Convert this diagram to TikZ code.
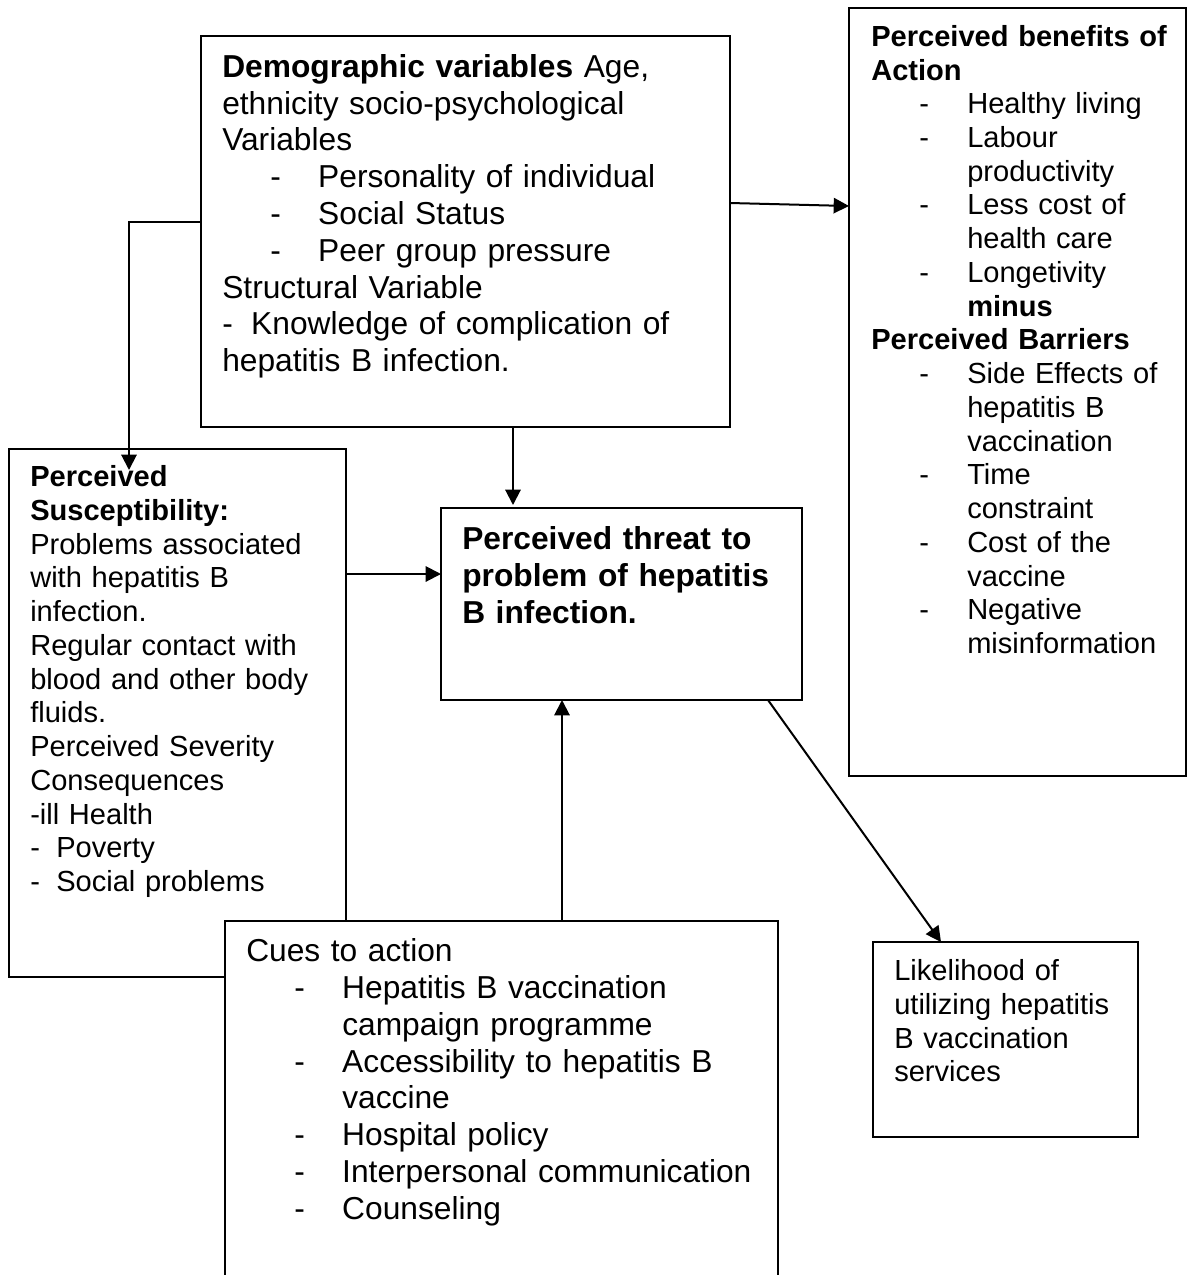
\documentclass[tikz,border=0pt]{standalone}
\usepackage{fontspec}
\setmainfont{Liberation Sans}
\usetikzlibrary{arrows.meta}
\setlength{\parindent}{0pt}
\setlength{\parskip}{0pt}
\newcommand{\bigtext}{\fontsize{23.8pt}{27.6pt}\selectfont}
\newcommand{\smalltext}{\fontsize{21.8pt}{25.3pt}\selectfont}
\newcommand{\dashitem}[1]{\par\hangindent=72pt\hangafter=1\hspace*{36pt}\makebox[36pt][l]{-}#1}

\begin{document}
\begin{tikzpicture}[x=0.75pt,y=-0.75pt,
  hbmbox/.style={draw,line width=1.5pt,fill=white,inner sep=0pt,outer sep=0pt,anchor=north west},
  hbmtext/.style={anchor=north west,inner sep=0pt,align=left},
  hbmarrow/.style={line width=1.5pt,-{Triangle[width=11.5pt,length=11.5pt]}}]
  \useasboundingbox (0,0) rectangle (1193,1275);
  % boxes
  \node[hbmbox,minimum width=396.75pt,minimum height=293.25pt] (demo) at (201,36) {};
  \node[hbmbox,minimum width=252.75pt,minimum height=576pt] (benefit) at (849,8) {};
  \node[hbmbox,minimum width=252.75pt,minimum height=396pt] (suscept) at (9,449) {};
  \node[hbmbox,minimum width=270.75pt,minimum height=144pt] (threat) at (441,508) {};
  \node[hbmbox,minimum width=198.75pt,minimum height=146.25pt] (likely) at (873,942) {};
  \node[hbmbox,minimum width=414.75pt,minimum height=300pt] (cues) at (225,921) {};
  % texts
  \node[hbmtext,font=\bigtext,text width=380pt] (demo-txt) at (222,51.2) {%
    \strut\textbf{Demographic variables} Age,\\
    ethnicity socio-psychological\\
    Variables
    \dashitem{Personality of individual}
    \dashitem{Social Status}
    \dashitem{Peer group pressure}
    \par Structural Variable\\
    \makebox[21.75pt][l]{-}Knowledge of complication of\\
    hepatitis B infection.};
  \node[hbmtext,font=\smalltext,text width=236pt] (benefit-txt) at (871,22.4) {%
    \strut\textbf{Perceived benefits of}\\
    \textbf{Action}
    \dashitem{Healthy living}
    \dashitem{Labour\newline productivity}
    \dashitem{Less cost of\newline health care}
    \dashitem{Longetivity\newline\textbf{minus}}
    \par\textbf{Perceived Barriers}
    \dashitem{Side Effects of\newline hepatitis B\newline vaccination}
    \dashitem{Time\newline constraint}
    \dashitem{Cost of the\newline vaccine}
    \dashitem{Negative\newline misinformation}\par};
  \node[hbmtext,font=\smalltext,text width=236pt] (suscept-txt) at (30,462.9) {%
    \strut\textbf{Perceived}\\
    \textbf{Susceptibility:}\\
    Problems associated\\
    with hepatitis B\\
    infection.\\
    Regular contact with\\
    blood and other body\\
    fluids.\\
    Perceived Severity\\
    Consequences\\
    -ill Health\\
    \makebox[19.5pt][l]{-}Poverty\\
    \makebox[19.5pt][l]{-}Social problems};
  \node[hbmtext,font=\bigtext\bfseries,text width=250pt] (threat-txt) at (462,523.7) {%
    \strut Perceived threat to\\
    problem of hepatitis\\
    B infection.};
  \node[hbmtext,font=\bigtext,text width=400pt] (cues-txt) at (246,935.7) {%
    \strut Cues to action
    \dashitem{Hepatitis B vaccination\newline campaign programme}
    \dashitem{Accessibility to hepatitis B\newline vaccine}
    \dashitem{Hospital policy}
    \dashitem{Interpersonal communication}
    \dashitem{Counseling}\par};
  \node[hbmtext,font=\smalltext,text width=180pt] (likely-txt) at (894,956.9) {%
    \strut Likelihood of\\
    utilizing hepatitis\\
    B vaccination\\
    services};
  % connectors
  \draw[hbmarrow] ([yshift=-139.5pt]demo.north west) -| ([xshift=90pt,yshift=-15.75pt]suscept.north west);
  \draw[hbmarrow] ([yshift=-125.25pt]demo.north east) -- ([yshift=-148.5pt]benefit.north west);
  \draw[hbmarrow] ([xshift=234pt]demo.south west) -- ([xshift=54pt,yshift=2.25pt]threat.north west);
  \draw[hbmarrow] ([yshift=-93.75pt]suscept.north east) -- ([yshift=-49.5pt]threat.north west);
  \draw[hbmarrow] ([xshift=252.75pt]cues.north west) -- ([xshift=90.75pt]threat.south west);
  \draw[hbmarrow] ([xshift=245.25pt]threat.south west) -- ([xshift=51pt]likely.north west);
\end{tikzpicture}
\end{document}
